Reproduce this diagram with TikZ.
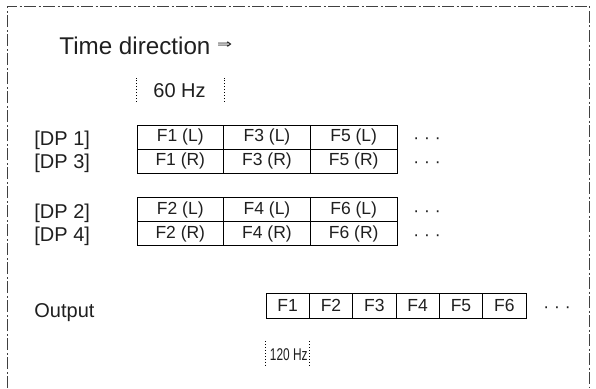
\documentclass[tikz,border=0pt]{standalone}
\usepackage{fontspec}
\setmainfont{Liberation Sans}
\newfontfamily\arrowfont{DejaVu Sans}
\usepackage{graphicx}
\tikzset{
  cell/.style={draw, minimum width=86.7pt, minimum height=24pt, inner sep=0pt, font=\fontsize{17.5}{17.5}\selectfont},
  outcell/.style={draw, minimum width=43.33pt, minimum height=25pt, inner sep=0pt, font=\fontsize{17.5}{17.5}\selectfont},
  rowlabel/.style={anchor=base west, inner sep=0pt, font=\fontsize{20}{20}\selectfont},
  more/.style={inner sep=0pt, yshift=-4pt, font=\fontsize{17.5}{17.5}\selectfont},
  marker/.style={dotted, line width=0.9pt},
  frame/.style={line width=0.8pt, black!75, dash pattern=on 12pt off 2.5pt on 2pt off 2.5pt}
}
\begin{document}
\begin{tikzpicture}[x=1pt, y=-1pt, line width=0.8pt, text=black!88]
\useasboundingbox (0,0) rectangle (596,388);
\draw[frame] (7,388) -- (7,6) -- (589,6) -- (589,388);

\node[rowlabel, font=\fontsize{24.2}{24.2}\selectfont] (title) at (59,54) {Time direction \raisebox{5.5pt}{\arrowfont\fontsize{18}{18}\selectfont\scalebox{1}[0.7]{⇒}}};

% left/right pictures, odd frames
\node[cell] (a1) at (180.3,137) {F1 (L)};
\node[cell] (a3) at (267,137) {F3 (L)};
\node[cell] (a5) at (353.7,137) {F5 (L)};
\node[cell] (b1) at (180.3,161) {F1 (R)};
\node[cell] (b3) at (267,161) {F3 (R)};
\node[cell] (b5) at (353.7,161) {F5 (R)};
\node[more] (adots) at (427,137) {· · ·};
\node[more] (bdots) at (427,161) {· · ·};
\node[rowlabel] (dp1) at (34,145.5) {[DP 1]};
\node[rowlabel] (dp3) at (34,168.5) {[DP 3]};

% left/right pictures, even frames
\node[cell] (c2) at (180.3,209.5) {F2 (L)};
\node[cell] (c4) at (267,209.5) {F4 (L)};
\node[cell] (c6) at (353.7,209.5) {F6 (L)};
\node[cell] (d2) at (180.3,233.5) {F2 (R)};
\node[cell] (d4) at (267,233.5) {F4 (R)};
\node[cell] (d6) at (353.7,233.5) {F6 (R)};
\node[more] (cdots) at (427,209.5) {· · ·};
\node[more] (ddots) at (427,233.5) {· · ·};
\node[rowlabel] (dp2) at (34,218) {[DP 2]};
\node[rowlabel] (dp4) at (34,241.5) {[DP 4]};

% output sequence
\node[outcell] (o1) at (287.7,305.5) {F1};
\node[outcell] (o2) at (331,305.5) {F2};
\node[outcell] (o3) at (374.3,305.5) {F3};
\node[outcell] (o4) at (417.7,305.5) {F4};
\node[outcell] (o5) at (461,305.5) {F5};
\node[outcell] (o6) at (504.3,305.5) {F6};
\node[more] (odots) at (557,305.5) {· · ·};
\node[rowlabel] (out) at (34,317) {Output};

% frame periods
\draw[marker] ([yshift=23pt]a1.north west) -- ([yshift=48pt]a1.north west);
\draw[marker] ([yshift=23pt]a1.north east) -- ([yshift=48pt]a1.north east);
\node[rowlabel] (slow) at (153,97) {60 Hz};
\draw[marker] ([yshift=-23pt]o1.south west) -- ([yshift=-49pt]o1.south west);
\draw[marker] ([yshift=-23pt]o1.south east) -- ([yshift=-49pt]o1.south east);
\node[rowlabel, font=\fontsize{17}{17}\selectfont] (fast) at (269.5,360) {\scalebox{0.7}[1]{120 Hz}};
\end{tikzpicture}
\end{document}
